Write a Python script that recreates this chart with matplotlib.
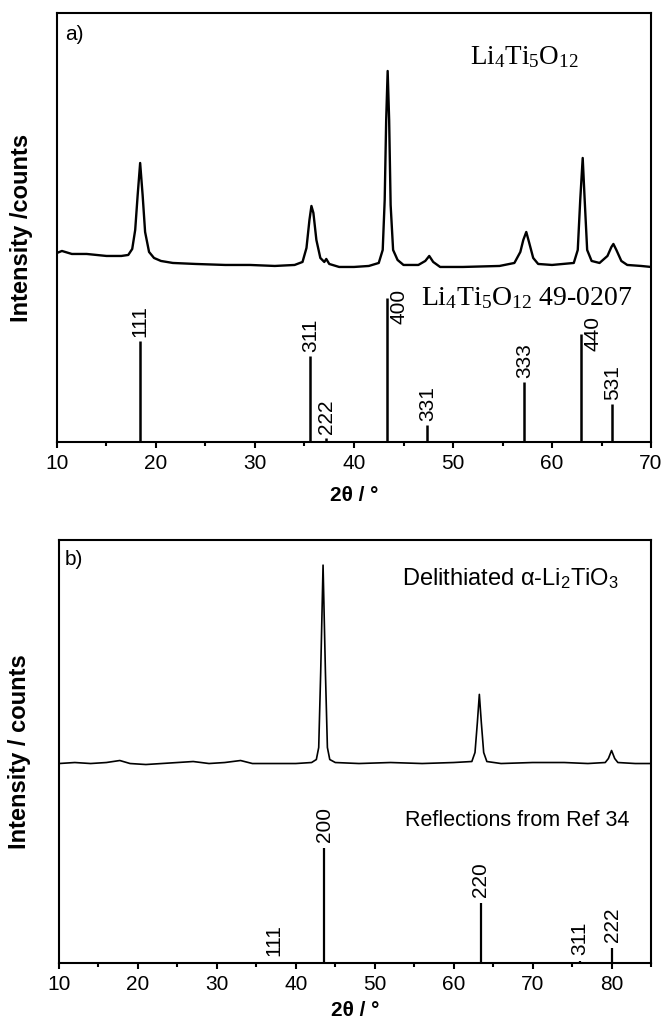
import matplotlib
matplotlib.use('Agg')
import matplotlib.pyplot as plt
from matplotlib.ticker import MultipleLocator

plt.rcParams['font.family'] = ['Liberation Sans', 'DejaVu Sans']
plt.rcParams['mathtext.default'] = 'regular'

# ---- panel a: Li4Ti5O12 measured pattern (2theta, intensity a.u.)
tt_a = [10.0, 10.5, 11.5, 13.0, 15.0, 16.5, 17.2, 17.6, 17.9, 18.15, 18.4,
        18.65, 18.9, 19.3, 19.8, 20.5, 21.7, 24.0, 27.0, 29.5, 32.0, 34.0,
        34.8, 35.2, 35.5, 35.7, 35.9, 36.2, 36.6, 37.0, 37.2, 37.5, 38.5,
        40.0, 41.5, 42.5, 42.9, 43.1, 43.25, 43.4, 43.55, 43.7, 43.95, 44.4,
        45.0, 46.5, 47.2, 47.6, 48.0, 48.7, 51.0, 54.7, 56.2, 56.8, 57.1,
        57.4, 57.7, 58.1, 58.6, 60.0, 62.2, 62.6, 62.85, 63.1, 63.3, 63.55,
        64.0, 64.8, 65.6, 66.0, 66.2, 66.5, 67.0, 67.6, 69.0, 70.0]
int_a = [189, 191, 188, 188, 186, 186, 187, 193, 212, 247, 279,
         247, 210, 190, 184, 181, 179, 178, 177, 177, 176, 177,
         180, 194, 222, 236, 229, 202, 184, 180, 183, 178, 175,
         175, 176, 179, 192, 242, 322, 371, 322, 237, 192, 182,
         177, 177, 181, 186, 180, 175, 175, 176, 179, 190, 202,
         210, 199, 184, 178, 177, 179, 192, 242, 284, 242, 192,
         181, 179, 186, 195, 198, 192, 181, 177, 176, 175]

# reference card 49-0207
hkl_a = ['111', '311', '222', '400', '331', '333', '440', '531']
pos_a = [18.4, 35.6, 37.2, 43.3, 47.4, 57.2, 62.9, 66.1]
ref_a = [101, 86, 4, 144, 17, 60, 108, 38]

# ---- panel b: delithiated alpha-Li2TiO3
tt_b = [10, 12, 14, 16, 17.7, 19, 21, 23, 25, 27, 29, 31, 33, 34.5, 37, 40,
        42.0, 42.6, 42.9, 43.15, 43.45, 43.75, 44.0, 44.3, 45, 48, 52, 56,
        60, 62.3, 62.7, 63.0, 63.25, 63.5, 63.8, 64.2, 66, 70, 74, 77, 79.2,
        79.6, 80.0, 80.4, 80.8, 83, 85]
int_b = [199, 200, 199, 200, 202, 199, 198, 199, 200, 201, 199, 200, 202,
         199, 199, 199, 200, 203, 215, 290, 397, 290, 215, 203, 200, 199,
         200, 199, 200, 201, 210, 240, 268, 240, 210, 201, 199, 200, 200,
         199, 200, 204, 212, 204, 200, 199, 199]

hkl_b = ['111', '200', '220', '311', '222']
pos_b = [37.2, 43.6, 63.4, 76.0, 80.1]
ref_b = [1, 115, 60, 2, 15]

fig = plt.figure(figsize=(6.61, 10.23), dpi=100)
ax_a = fig.add_axes([0.0862, 0.5680, 0.8987, 0.4193])
ax_b = fig.add_axes([0.0893, 0.0587, 0.8956, 0.4134])


def style_axes(ax, xmax, ylab, lpad):
    for s in ax.spines.values():
        s.set_linewidth(1.5)
    ax.set_xlim(10, xmax)
    ax.xaxis.set_major_locator(MultipleLocator(10))
    ax.xaxis.set_minor_locator(MultipleLocator(5))
    ax.tick_params(axis='x', which='major', direction='out', length=4,
                   width=1.5, labelsize=15, pad=5)
    ax.tick_params(axis='x', which='minor', direction='out', length=3,
                   width=1.5)
    ax.set_yticks([])
    ax.set_xlabel('2θ / °', fontsize=15, fontweight='bold', labelpad=lpad)
    ax.set_ylabel(ylab, fontsize=17, fontweight='bold')


# panel a
ax_a.plot(tt_a, int_a, color='black', lw=1.7)
ax_a.vlines(pos_a, 0, ref_a, color='black', lw=1.8)
for h, x, y in zip(hkl_a, pos_a, ref_a):
    if h in ('400', '440'):
        ax_a.annotate(h, (x, y), xytext=(9, -6 if h == '400' else 0),
                      textcoords='offset points', rotation=90,
                      ha='center', va='center', fontsize=15)
    else:
        ax_a.annotate(h, (x, y), xytext=(0, 3), textcoords='offset points',
                      rotation=90, ha='center', va='bottom', fontsize=15)
ax_a.set_ylim(0, 429)
style_axes(ax_a, 70, 'Intensity /counts', 9)
ax_a.yaxis.set_label_coords(-0.040, 0.5)
ax_a.text(0.013, 0.951, 'a)', transform=ax_a.transAxes, fontsize=15,
          va='center', ha='left')
ax_a.text(0.695, 0.882, 'Li$_4$Ti$_5$O$_{12}$', transform=ax_a.transAxes,
          fontsize=19.5, family='Liberation Serif', va='baseline', ha='left')
ax_a.text(0.613, 0.320, 'Li$_4$Ti$_5$O$_{12}$ 49-0207',
          transform=ax_a.transAxes, fontsize=20, family='Liberation Serif',
          va='baseline', ha='left')

# panel b
ax_b.plot(tt_b, int_b, color='black', lw=1.2)
ax_b.vlines(pos_b, 0, ref_b, color='black', lw=1.6)
for h, x, y in zip(hkl_b, pos_b, ref_b):
    ax_b.annotate(h, (x, y), xytext=(0, 4), textcoords='offset points',
                  rotation=90, ha='center', va='bottom', fontsize=15)
ax_b.set_ylim(0, 422)
style_axes(ax_b, 85, 'Intensity / counts', 5)
ax_b.yaxis.set_label_coords(-0.048, 0.5)
ax_b.text(0.010, 0.953, 'b)', transform=ax_b.transAxes, fontsize=15,
          va='center', ha='left')
ax_b.text(0.580, 0.893, 'Delithiated α-Li$_2$TiO$_3$',
          transform=ax_b.transAxes, fontsize=17, va='baseline', ha='left')
ax_b.text(0.584, 0.325, 'Reflections from Ref 34',
          transform=ax_b.transAxes, fontsize=15.5, va='baseline', ha='left')

fig.savefig('out.png', dpi=100)
